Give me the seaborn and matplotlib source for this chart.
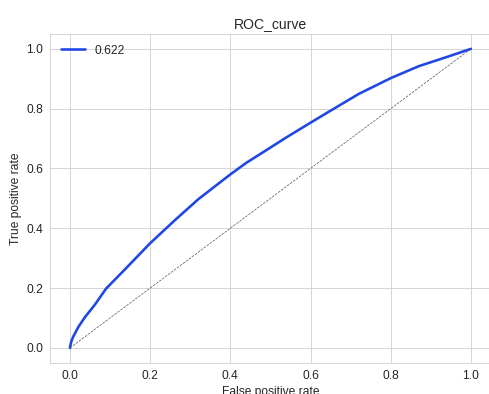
import matplotlib
matplotlib.use("Agg")
import matplotlib.pyplot as plt
import seaborn as sns

# ---------------------------------------------------------------------------
# Data
# ---------------------------------------------------------------------------
fpr = [0.0, 0.003, 0.008, 0.021, 0.037, 0.0625, 0.09, 0.1375, 0.2, 0.2625,
       0.32, 0.371, 0.4, 0.44, 0.479, 0.5375, 0.6, 0.646, 0.72, 0.8, 0.87,
       0.945, 1.0]
tpr = [0.0, 0.02, 0.037, 0.07, 0.102, 0.145, 0.198, 0.263, 0.35, 0.428,
       0.497, 0.55, 0.58, 0.619, 0.652, 0.702, 0.753, 0.79, 0.849, 0.902,
       0.942, 0.975, 1.0]
diag = [0.0, 1.0]
auc_label = "0.622"

sns.set_style("whitegrid")
plt.rcParams["font.family"] = ["Liberation Sans", "DejaVu Sans"]

fig = plt.figure(figsize=(489 / 72, 394 / 72), dpi=72)
ax = fig.add_axes([0.102, 0.079, 0.902, 0.835])

sns.lineplot(x=fpr, y=tpr, ax=ax, color="#1f47e6", linewidth=2.6,
             label=auc_label, sort=False, estimator=None)
ax.plot(diag, diag, color="#555555", linestyle="--", linewidth=0.7)

ax.set_title("ROC_curve", fontsize=14)
ax.set_xlabel("False positive rate", fontsize=12)
ax.set_ylabel("True positive rate", fontsize=12)
ax.tick_params(labelsize=12)
ax.legend(loc="upper left", frameon=False, fontsize=12)

fig.savefig("out.png", dpi=72)
